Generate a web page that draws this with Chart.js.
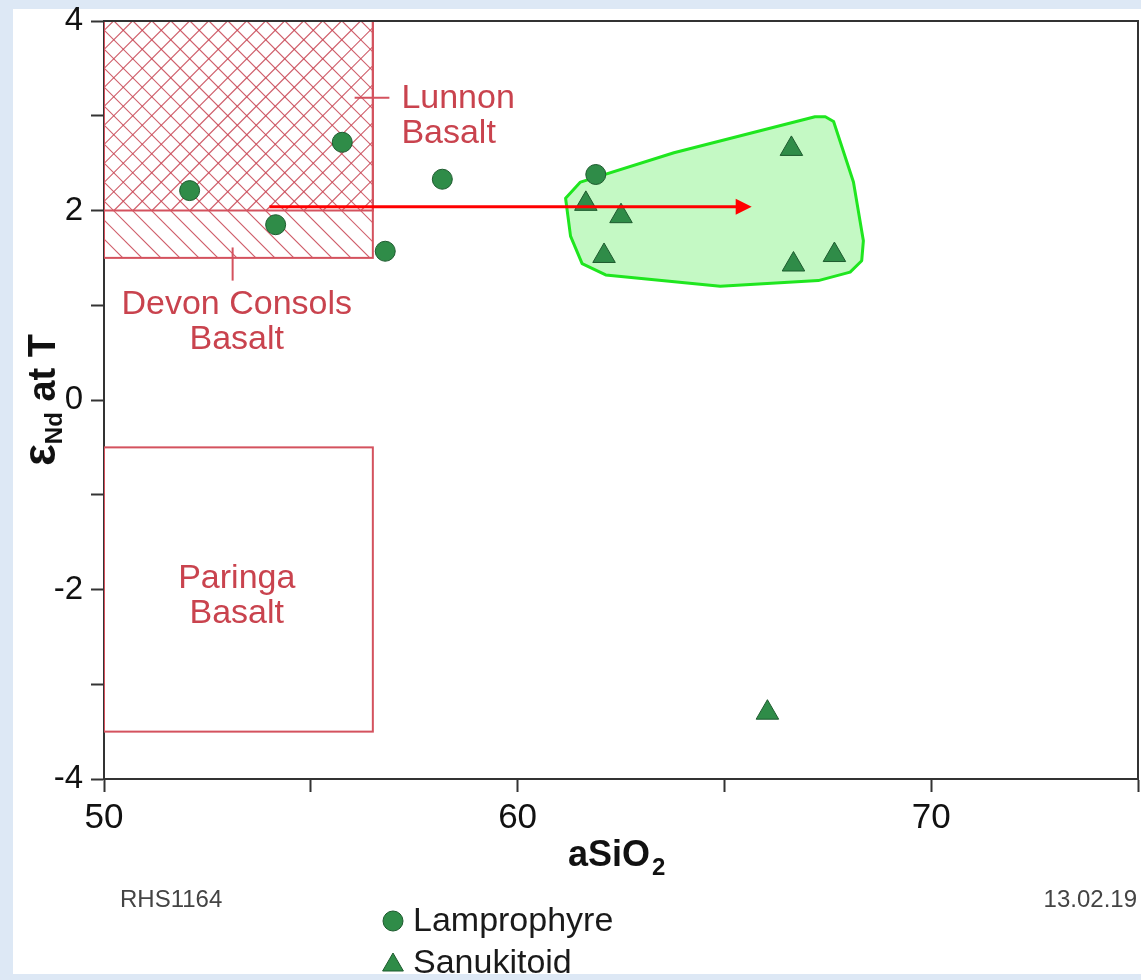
<!DOCTYPE html>
<html>
<head>
<meta charset="utf-8">
<title>aSiO2 vs eNd</title>
<script src="https://cdn.jsdelivr.net/npm/chart.js@4.4.1/dist/chart.umd.min.js"></script>
<style>
  html, body { margin: 0; padding: 0; background: #dde8f5; overflow: hidden; }
  #panel { position: absolute; left: 13px; top: 9px; width: 1128px; height: 965px; background: #fff; }
  #wrap { position: absolute; left: 0; top: 0; width: 1141px; height: 980px; overflow: hidden; }
  #chart { display: block; }
</style>
</head>
<body>
<div id="panel"></div>
<div id="wrap"><canvas id="chart" width="1152" height="980"></canvas></div>
<script>
// axis ranges and labelled ticks
const xMin = 50, xMax = 75;
const yMin = -4, yMax = 4;
const xTickLabels = [50, 60, 70];
const yTickLabels = [-4, -2, 0, 2, 4];

// samples
const lamprophyreSiO2 = [52.07, 54.15, 55.76, 56.80, 58.18, 61.89];
const lamprophyreEps  = [2.21, 1.85, 2.72, 1.57, 2.33, 2.38];
const sanukitoidSiO2  = [61.65, 62.50, 62.09, 66.62, 66.67, 67.66, 66.04];
const sanukitoidEps   = [2.07, 1.94, 1.52, 2.65, 1.43, 1.53, -3.30];

// basalt fields
const fieldNames   = ['Devon Consols Basalt', 'Lunnon Basalt', 'Paringa Basalt'];
const fieldSiO2Min = [50, 50, 50];
const fieldSiO2Max = [56.5, 56.5, 56.5];
const fieldEpsMin  = [1.5, 2, -3.5];
const fieldEpsMax  = [4, 4, -0.5];

// outline round the sanukitoid group
const hullSiO2 = [61.52, 63.78, 67.19, 67.44, 67.64, 68.12, 68.36, 68.32, 68.04, 67.27, 64.90, 62.13, 61.56, 61.28, 61.16];
const hullEps  = [2.30, 2.61, 2.99, 2.99, 2.94, 2.30, 1.68, 1.47, 1.35, 1.26, 1.20, 1.32, 1.44, 1.73, 2.13];

// shift arrow
const arrowSiO2 = [54.0, 65.66];
const arrowEps  = [2.04, 2.04];

const FIELD_RED = '#d4525e';
const LABEL_RED = '#c9434e';
const FONT = '"Liberation Sans", Arial, Helvetica, sans-serif';

function hatch(ctx, x0, y0, x1, y1, dir, gap) {
  ctx.save();
  ctx.beginPath();
  ctx.rect(x0, y0, x1 - x0, y1 - y0);
  ctx.clip();
  const h = y1 - y0;
  ctx.beginPath();
  const start = Math.floor((x0 - h) / gap) * gap;
  for (let s = start; s < x1 + h; s += gap) {
    if (dir > 0) { ctx.moveTo(s, y1); ctx.lineTo(s + h, y0); }
    else { ctx.moveTo(s, y0); ctx.lineTo(s + h, y1); }
  }
  ctx.stroke();
  ctx.restore();
}

const fieldStyle = {
  'Devon Consols Basalt': { hatch: -1, label: ['Devon Consols', 'Basalt'], at: [53.21, 0.91], align: 'center', leader: [[53.11, 1.61], [53.11, 1.26]] },
  'Lunnon Basalt':        { hatch: 1,  label: ['Lunnon', 'Basalt'], at: [57.19, 3.08], align: 'left', leader: [[56.06, 3.19], [56.90, 3.19]] },
  'Paringa Basalt':       { hatch: 0,  label: ['Paringa', 'Basalt'], at: [53.21, -1.98], align: 'center', leader: null }
};

const backdrop = {
  id: 'backdrop',
  beforeDatasetsDraw(chart) {
    const { ctx, chartArea: a } = chart;
    const X = v => chart.scales.x.getPixelForValue(v);
    const Y = v => chart.scales.y.getPixelForValue(v);
    ctx.save();
    ctx.beginPath();
    ctx.rect(a.left, a.top, a.right - a.left, a.bottom - a.top);
    ctx.clip();

    // hatching first, outlines on top
    fieldNames.forEach((name, i) => {
      const st = fieldStyle[name];
      if (!st.hatch) return;
      ctx.strokeStyle = 'rgba(200, 70, 85, 0.85)';
      ctx.lineWidth = 1.2;
      hatch(ctx, X(fieldSiO2Min[i]), Y(fieldEpsMax[i]), X(fieldSiO2Max[i]), Y(fieldEpsMin[i]), st.hatch, 19);
    });
    ctx.strokeStyle = FIELD_RED;
    ctx.lineWidth = 2;
    fieldNames.forEach((name, i) => {
      const x0 = X(fieldSiO2Min[i]), x1 = X(fieldSiO2Max[i]);
      const y0 = Y(fieldEpsMax[i]), y1 = Y(fieldEpsMin[i]);
      ctx.strokeRect(x0, y0, x1 - x0, y1 - y0);
      const st = fieldStyle[name];
      if (st.leader) {
        ctx.beginPath();
        ctx.moveTo(X(st.leader[0][0]), Y(st.leader[0][1]));
        ctx.lineTo(X(st.leader[1][0]), Y(st.leader[1][1]));
        ctx.stroke();
      }
    });

    // sanukitoid outline
    ctx.beginPath();
    hullSiO2.forEach((v, i) => {
      if (i === 0) ctx.moveTo(X(v), Y(hullEps[i]));
      else ctx.lineTo(X(v), Y(hullEps[i]));
    });
    ctx.closePath();
    ctx.fillStyle = 'rgba(165, 246, 165, 0.65)';
    ctx.fill();
    ctx.strokeStyle = '#1fe61f';
    ctx.lineWidth = 3;
    ctx.lineJoin = 'round';
    ctx.stroke();
    ctx.restore();

    // field names
    ctx.save();
    ctx.fillStyle = LABEL_RED;
    ctx.font = '34px ' + FONT;
    ctx.textBaseline = 'alphabetic';
    fieldNames.forEach(name => {
      const st = fieldStyle[name];
      ctx.textAlign = st.align;
      st.label.forEach((line, k) => ctx.fillText(line, X(st.at[0]), Y(st.at[1]) + k * 35));
    });
    ctx.restore();
  },
  afterDatasetsDraw(chart) {
    const { ctx, chartArea: a } = chart;
    const X = v => chart.scales.x.getPixelForValue(v);
    const Y = v => chart.scales.y.getPixelForValue(v);

    // arrow
    const x0 = X(arrowSiO2[0]), y0 = Y(arrowEps[0]);
    const x1 = X(arrowSiO2[1]), y1 = Y(arrowEps[1]);
    ctx.save();
    ctx.strokeStyle = '#ff0000';
    ctx.fillStyle = '#ff0000';
    ctx.lineWidth = 3;
    ctx.beginPath();
    ctx.moveTo(x0, y0);
    ctx.lineTo(x1 - 12, y1);
    ctx.stroke();
    ctx.beginPath();
    ctx.moveTo(x1, y1);
    ctx.lineTo(x1 - 16, y1 - 8);
    ctx.lineTo(x1 - 16, y1 + 8);
    ctx.closePath();
    ctx.fill();

    // frame top and right
    ctx.strokeStyle = '#333';
    ctx.lineWidth = 2;
    ctx.beginPath();
    ctx.moveTo(a.left, a.top);
    ctx.lineTo(a.right, a.top);
    ctx.lineTo(a.right, a.bottom);
    ctx.stroke();
    ctx.restore();
  },
  afterDraw(chart) {
    const { ctx } = chart;
    ctx.save();
    ctx.fillStyle = '#111';

    // x title
    ctx.textBaseline = 'alphabetic';
    ctx.textAlign = 'left';
    ctx.font = 'bold 36px ' + FONT;
    const tx = 568, ty = 866;
    ctx.fillText('aSiO', tx, ty);
    const w = ctx.measureText('aSiO').width;
    ctx.font = 'bold 24px ' + FONT;
    ctx.fillText('2', tx + w + 2, ty + 9);

    // y title, rotated
    ctx.save();
    ctx.translate(55, 400);
    ctx.rotate(-Math.PI / 2);
    const parts = [
      { t: '\u03b5', f: 'bold 46px ' + FONT, dy: 0 },
      { t: 'Nd', f: 'bold 24px ' + FONT, dy: 7 },
      { t: ' at T', f: 'bold 38px ' + FONT, dy: 0 }
    ];
    let total = 0;
    parts.forEach(p => { ctx.font = p.f; p.w = ctx.measureText(p.t).width; total += p.w; });
    let cx = -total / 2;
    parts.forEach(p => { ctx.font = p.f; ctx.fillText(p.t, cx, p.dy); cx += p.w; });
    ctx.restore();

    // footnotes
    ctx.fillStyle = '#444';
    ctx.font = '24px ' + FONT;
    ctx.textBaseline = 'middle';
    ctx.textAlign = 'left';
    ctx.fillText('RHS1164', 120, 900);
    ctx.textAlign = 'right';
    ctx.fillText('13.02.19', 1137, 900);

    // legend
    const rows = [921, 963];
    chart.data.datasets.forEach((ds, i) => {
      const lx = 393, ly = rows[i];
      ctx.fillStyle = ds.backgroundColor;
      ctx.strokeStyle = ds.borderColor;
      ctx.lineWidth = 1;
      ctx.beginPath();
      if (ds.pointStyle === 'triangle') {
        const r = 12;
        ctx.moveTo(lx, ly - r + 2);
        ctx.lineTo(lx + r * 0.866, ly + r / 2 + 2);
        ctx.lineTo(lx - r * 0.866, ly + r / 2 + 2);
        ctx.closePath();
      } else {
        ctx.arc(lx, ly, 10, 0, Math.PI * 2);
      }
      ctx.fill();
      ctx.stroke();
      ctx.fillStyle = '#1a1a1a';
      ctx.font = '34px ' + FONT;
      ctx.textAlign = 'left';
      ctx.textBaseline = 'middle';
      ctx.fillText(ds.label, 413, ly + 1);
    });
    ctx.restore();
  }
};

const toPoints = (xs, ys) => xs.map((x, i) => ({ x, y: ys[i] }));

// keep the plot frame where the axes are fixed, no extra room for labels
const noScalePadding = s => {
  s.paddingLeft = 0; s.paddingRight = 0; s.paddingTop = 0; s.paddingBottom = 0;
};

new Chart(document.getElementById('chart'), {
  type: 'scatter',
  data: {
    datasets: [
      {
        label: 'Lamprophyre',
        data: toPoints(lamprophyreSiO2, lamprophyreEps),
        pointStyle: 'circle',
        pointRadius: 10,
        backgroundColor: '#2f8c48',
        borderColor: '#1d5a2e',
        borderWidth: 1
      },
      {
        label: 'Sanukitoid',
        data: toPoints(sanukitoidSiO2, sanukitoidEps),
        pointStyle: 'triangle',
        pointRadius: 13,
        backgroundColor: '#2f8c48',
        borderColor: '#1d5a2e',
        borderWidth: 1
      }
    ]
  },
  options: {
    responsive: false,
    animation: false,
    events: [],
    layout: { padding: { top: 21, right: 3, left: 0, bottom: 0 } },
    plugins: {
      legend: { display: false },
      tooltip: { enabled: false }
    },
    scales: {
      x: {
        type: 'linear',
        min: xMin,
        max: xMax,
        afterFit: s => { s.height = 201; noScalePadding(s); },
        border: { color: '#333', width: 2 },
        grid: { drawOnChartArea: false, tickLength: 13, tickColor: '#333', tickWidth: 2 },
        ticks: {
          stepSize: 5,
          padding: 5,
          color: '#111',
          font: { family: FONT, size: 35 },
          maxRotation: 0,
          callback: v => xTickLabels.includes(v) ? String(v) : ''
        }
      },
      y: {
        min: yMin,
        max: yMax,
        afterFit: s => { s.width = 104; noScalePadding(s); },
        border: { color: '#333', width: 2 },
        grid: { drawOnChartArea: false, tickLength: 13, tickColor: '#333', tickWidth: 2 },
        ticks: {
          stepSize: 1,
          padding: 8,
          color: '#111',
          font: { family: FONT, size: 33 },
          callback: v => yTickLabels.includes(v) ? String(v) : ''
        }
      }
    }
  },
  plugins: [backdrop]
});
</script>
</body>
</html>
